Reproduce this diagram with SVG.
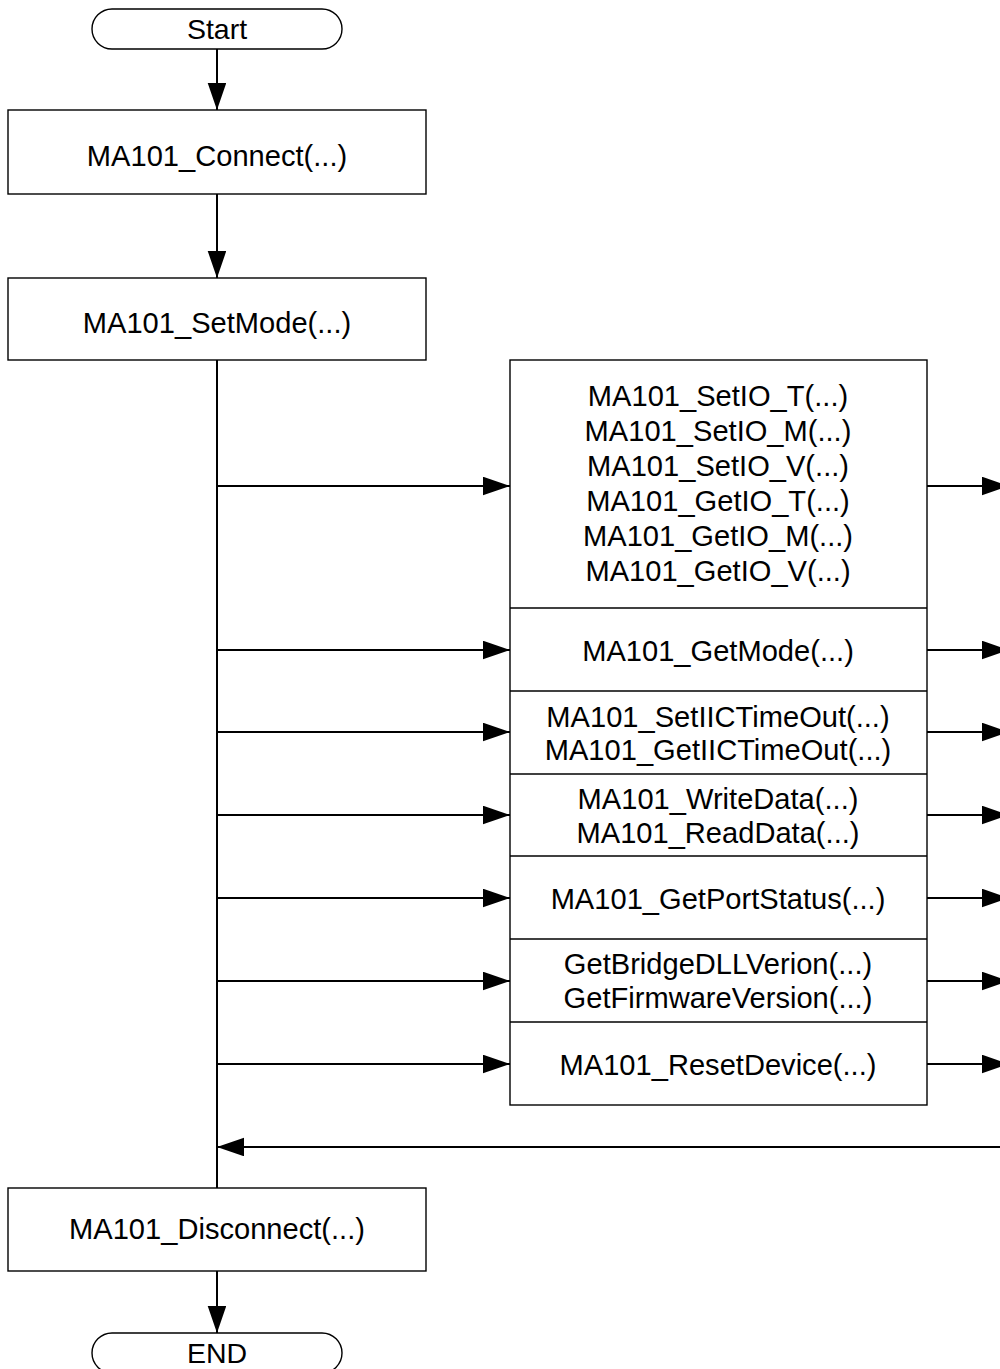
<svg xmlns="http://www.w3.org/2000/svg" width="1000" height="1369" viewBox="0 0 1000 1369">
<defs>
<style>
.box{fill:#fff;stroke:#000;stroke-width:1.4}
.div{stroke:#000;stroke-width:1.4}
.ln{fill:none;stroke:#000;stroke-width:2}
.t{font-family:"Liberation Sans",Arial,sans-serif;font-size:30px;fill:#000;text-anchor:middle}
.ts{font-family:"Liberation Sans",Arial,sans-serif;font-size:28.5px;fill:#000;text-anchor:middle}
</style>
<marker id="ah" markerUnits="userSpaceOnUse" markerWidth="28" markerHeight="19" refX="27" refY="9.3" orient="auto">
<path d="M0,0 L27,9.3 L0,18.6 z" fill="#000"/>
</marker>
</defs>
<rect width="1000" height="1369" fill="#fff"/>
<g id="connectors">
<line class="ln" x1="217" y1="49" x2="217" y2="110" marker-end="url(#ah)"/>
<line class="ln" x1="217" y1="194" x2="217" y2="278" marker-end="url(#ah)"/>
<line class="ln" x1="217" y1="360" x2="217" y2="1188"/>
<line class="ln" x1="217" y1="486" x2="510" y2="486" marker-end="url(#ah)"/>
<line class="ln" x1="217" y1="650" x2="510" y2="650" marker-end="url(#ah)"/>
<line class="ln" x1="217" y1="732" x2="510" y2="732" marker-end="url(#ah)"/>
<line class="ln" x1="217" y1="815" x2="510" y2="815" marker-end="url(#ah)"/>
<line class="ln" x1="217" y1="898" x2="510" y2="898" marker-end="url(#ah)"/>
<line class="ln" x1="217" y1="981" x2="510" y2="981" marker-end="url(#ah)"/>
<line class="ln" x1="217" y1="1064" x2="510" y2="1064" marker-end="url(#ah)"/>
<line class="ln" x1="927" y1="486" x2="1009" y2="486" marker-end="url(#ah)"/>
<line class="ln" x1="927" y1="650" x2="1009" y2="650" marker-end="url(#ah)"/>
<line class="ln" x1="927" y1="732" x2="1009" y2="732" marker-end="url(#ah)"/>
<line class="ln" x1="927" y1="815" x2="1009" y2="815" marker-end="url(#ah)"/>
<line class="ln" x1="927" y1="898" x2="1009" y2="898" marker-end="url(#ah)"/>
<line class="ln" x1="927" y1="981" x2="1009" y2="981" marker-end="url(#ah)"/>
<line class="ln" x1="927" y1="1064" x2="1009" y2="1064" marker-end="url(#ah)"/>
<line class="ln" x1="1010" y1="1147" x2="217" y2="1147" marker-end="url(#ah)"/>
<line class="ln" x1="217" y1="1271" x2="217" y2="1333" marker-end="url(#ah)"/>
</g>
<g id="start">
<rect class="box" x="92" y="9" width="250" height="40" rx="20"/>
<text class="ts" x="217" y="38.5">Start</text>
</g>
<g id="connect">
<rect class="box" x="8" y="110" width="418" height="84"/>
<text class="t" transform="translate(217 166) scale(0.97 1)">MA101_Connect(...)</text>
</g>
<g id="setmode">
<rect class="box" x="8" y="278" width="418" height="82"/>
<text class="t" transform="translate(217 333) scale(0.97 1)">MA101_SetMode(...)</text>
</g>
<g id="functions">
<rect class="box" x="510" y="360" width="417" height="745"/>
<line class="div" x1="510" y1="608" x2="927" y2="608"/>
<line class="div" x1="510" y1="691" x2="927" y2="691"/>
<line class="div" x1="510" y1="774" x2="927" y2="774"/>
<line class="div" x1="510" y1="856" x2="927" y2="856"/>
<line class="div" x1="510" y1="939" x2="927" y2="939"/>
<line class="div" x1="510" y1="1022" x2="927" y2="1022"/>
<text class="t" transform="translate(718 406) scale(0.97 1)">MA101_SetIO_T(...)</text>
<text class="t" transform="translate(718 441) scale(0.97 1)">MA101_SetIO_M(...)</text>
<text class="t" transform="translate(718 476) scale(0.97 1)">MA101_SetIO_V(...)</text>
<text class="t" transform="translate(718 511) scale(0.97 1)">MA101_GetIO_T(...)</text>
<text class="t" transform="translate(718 546) scale(0.97 1)">MA101_GetIO_M(...)</text>
<text class="t" transform="translate(718 581) scale(0.97 1)">MA101_GetIO_V(...)</text>
<text class="t" transform="translate(718 661) scale(0.97 1)">MA101_GetMode(...)</text>
<text class="t" transform="translate(718 727) scale(0.97 1)">MA101_SetIICTimeOut(...)</text>
<text class="t" transform="translate(718 760) scale(0.97 1)">MA101_GetIICTimeOut(...)</text>
<text class="t" transform="translate(718 809) scale(0.97 1)">MA101_WriteData(...)</text>
<text class="t" transform="translate(718 843) scale(0.97 1)">MA101_ReadData(...)</text>
<text class="t" transform="translate(718 909) scale(0.97 1)">MA101_GetPortStatus(...)</text>
<text class="t" transform="translate(718 974) scale(0.97 1)">GetBridgeDLLVerion(...)</text>
<text class="t" transform="translate(718 1008) scale(0.97 1)">GetFirmwareVersion(...)</text>
<text class="t" transform="translate(718 1075) scale(0.97 1)">MA101_ResetDevice(...)</text>
</g>
<g id="disconnect">
<rect class="box" x="8" y="1188" width="418" height="83"/>
<text class="t" transform="translate(217 1239) scale(0.97 1)">MA101_Disconnect(...)</text>
</g>
<g id="end">
<rect class="box" x="92" y="1333" width="250" height="40" rx="20"/>
<text class="ts" x="217" y="1363">END</text>
</g>
</svg>
